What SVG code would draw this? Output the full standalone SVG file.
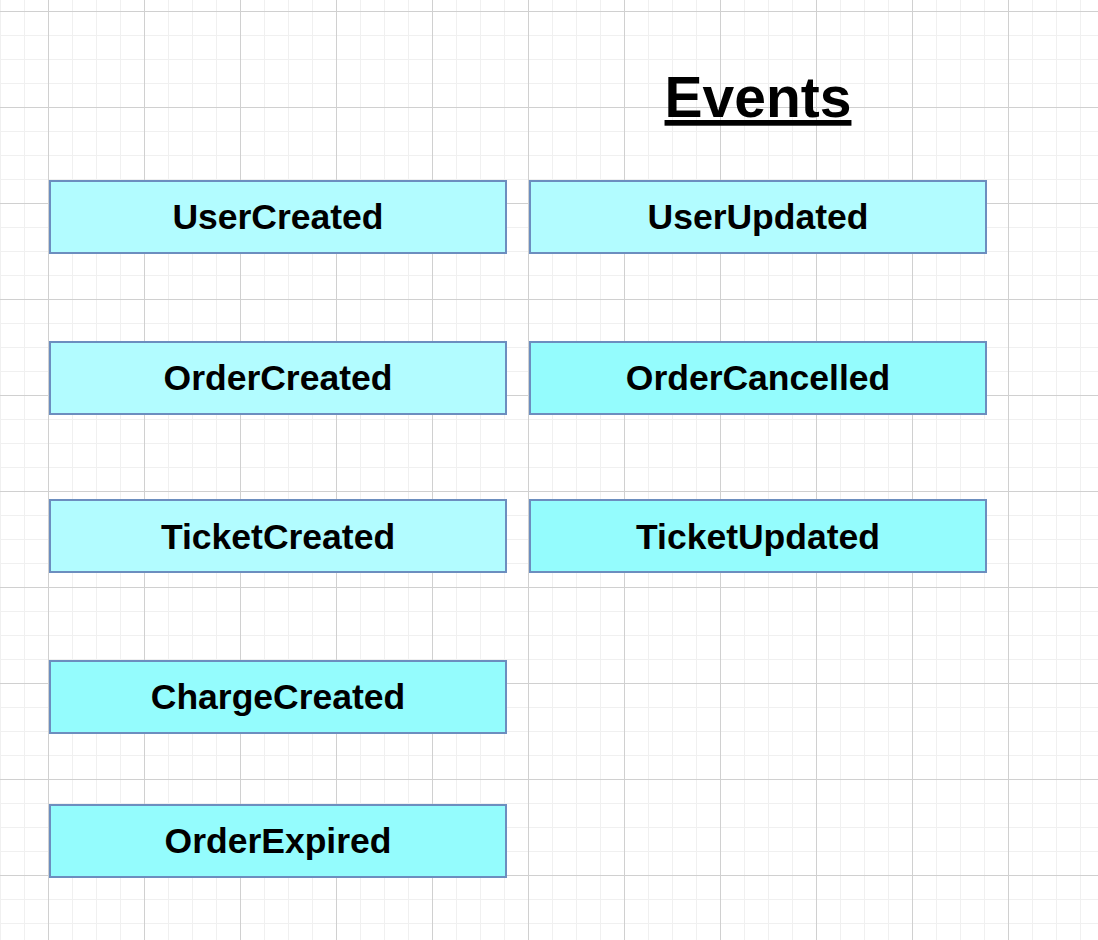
<svg xmlns="http://www.w3.org/2000/svg" width="1098" height="940" viewBox="0 0 1098 940">
<defs>
<pattern id="minor" x="0" y="11" width="24" height="24" patternUnits="userSpaceOnUse">
<path d="M0 0.5 H24 M0.5 0 V24" stroke="#f0f0f0" stroke-width="1" fill="none"/>
</pattern>
<pattern id="major" x="48" y="11" width="96" height="96" patternUnits="userSpaceOnUse">
<path d="M0 0.5 H96 M0.5 0 V96" stroke="#d0d0d0" stroke-width="1" fill="none"/>
</pattern>
</defs>
<style>
.box{stroke:#6c8ebf;stroke-width:2}
.light{fill:#b2fcff}
.dark{fill:#94fcfd}
.lbl{font-family:"Liberation Sans",Arial,sans-serif;font-weight:bold;font-size:35.5px;fill:#000;text-anchor:middle;dominant-baseline:central}
.title{font-family:"Liberation Sans",Arial,sans-serif;font-weight:bold;font-size:57px;fill:#000;text-anchor:middle;text-decoration:underline}
</style>
<rect width="1098" height="940" fill="#ffffff"/>
<rect width="1098" height="940" fill="url(#minor)"/>
<rect width="1098" height="940" fill="url(#major)"/>
<g id="title"><text class="title" x="758" y="117">Events</text></g>
<g id="connectors"></g>
<g id="UserCreated"><rect class="box light" x="50" y="181" width="456" height="72"/><text class="lbl" x="278" y="217">UserCreated</text></g>
<g id="UserUpdated"><rect class="box light" x="530" y="181" width="456" height="72"/><text class="lbl" x="758" y="217">UserUpdated</text></g>
<g id="OrderCreated"><rect class="box light" x="50" y="342" width="456" height="72"/><text class="lbl" x="278" y="378">OrderCreated</text></g>
<g id="OrderCancelled"><rect class="box dark" x="530" y="342" width="456" height="72"/><text class="lbl" x="758" y="378">OrderCancelled</text></g>
<g id="TicketCreated"><rect class="box light" x="50" y="500" width="456" height="72"/><text class="lbl" x="278" y="537">TicketCreated</text></g>
<g id="TicketUpdated"><rect class="box dark" x="530" y="500" width="456" height="72"/><text class="lbl" x="758" y="537">TicketUpdated</text></g>
<g id="ChargeCreated"><rect class="box dark" x="50" y="661" width="456" height="72"/><text class="lbl" x="278" y="697">ChargeCreated</text></g>
<g id="OrderExpired"><rect class="box dark" x="50" y="805" width="456" height="72"/><text class="lbl" x="278" y="841">OrderExpired</text></g>
</svg>
